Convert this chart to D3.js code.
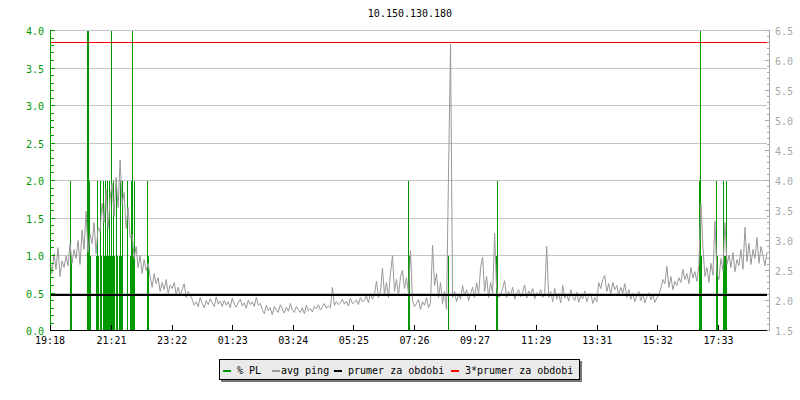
<!DOCTYPE html>
<html><head><meta charset="utf-8">
<script src="https://cdn.jsdelivr.net/npm/d3@7"></script>
<style>
body{margin:0;background:#fff}
svg{display:block}
text{font-family:"DejaVu Sans Mono",monospace;font-size:10px}
</style>
</head><body>
<svg id="c" width="800" height="400"></svg>
<script>
// ---------- data ----------
const title = "10.150.130.180";
const startLabel = "19:18";
const spanMinutes = 1432;
const pingStepMinutes = 4;
const xTickLabels = ["19:18","21:21","23:22","01:23","03:24","05:25","07:26","09:27","11:29","13:31","15:32","17:33"];
const leftTickLabels = ["0.0","0.5","1.0","1.5","2.0","2.5","3.0","3.5","4.0"];
const rightTickLabels = ["1.5","2.0","2.5","3.0","3.5","4.0","4.5","5.0","5.5","6.0","6.5"];
const legendLabels = ["% PL","avg ping","prumer za obdobi","3*prumer za obdobi"];
const avgPing = 2.10;
const avgPing3 = 6.30;
// avg ping (ms) every 4 minutes
const pingValues = [
 2.70,2.45,2.78,2.52,2.88,2.40,2.66,2.55,2.74,
 2.58,2.95,2.62,2.85,2.70,3.00,2.60,3.17,
 2.85,3.49,2.80,3.10,2.95,3.30,2.78,3.22,
 3.15,3.62,3.30,3.85,3.20,3.70,
 3.95,3.40,4.05,3.55,4.34,3.60,
 3.80,3.20,3.55,3.05,
 3.10,2.70,2.90,
 2.55,2.75,2.45,2.68,2.50,2.62,
 2.40,2.22,2.45,2.28,2.38,
 2.15,2.30,2.18,2.35,2.12,2.26,2.20,2.30,
 2.10,2.22,2.08,2.18,2.28,2.05,2.15,2.10,
 2.02,1.92,1.98,1.90,2.05,1.95,1.88,2.00,1.93,2.03,1.96,1.90,2.06,1.94,1.99,
 1.90,2.00,1.92,1.98,1.88,2.04,1.94,1.89,1.97,2.02,1.91,1.96,1.87,2.01,1.93,1.98,1.90,2.05,1.92,1.95,
 1.85,1.78,1.92,1.83,1.88,1.76,1.90,1.84,1.80,1.93,1.86,1.79,1.89,1.82,1.95,1.84,1.80,1.90,1.85,
 1.80,1.88,1.78,1.92,1.83,1.87,1.81,1.90,1.86,1.93,1.84,1.89,1.95,1.87,1.91,1.88,
 2.22,
 1.92,1.98,1.93,1.96,2.02,1.94,1.99,1.91,2.04,1.95,1.97,2.01,1.93,2.05,1.98,
 2.00,2.08,1.96,2.12,2.02,2.10,2.32,2.05,2.15,
 2.54,2.10,2.30,2.05,2.45,2.75,2.15,2.35,2.08,2.40,
 2.50,2.20,2.38,2.12,2.83,2.00,1.90,
 1.95,2.02,1.85,1.98,1.92,2.05,1.88,1.96,
 2.92,2.25,2.45,2.05,2.30,1.95,2.15,1.85,
 4.16,6.27,
 2.05,2.15,1.98,2.10,2.02,2.25,2.08,2.18,2.00,2.12,2.22,2.05,2.30,2.10,2.55,
 2.72,2.15,2.40,2.05,2.30,2.12,3.12,2.20,2.05,
 2.10,2.20,2.33,2.05,2.15,2.08,2.22,2.02,2.12,2.18,2.06,2.14,2.26,2.04,2.16,2.10,2.20,2.03,2.13,2.08,2.18,2.05,2.12,
 2.90,
 2.05,2.15,1.98,2.20,2.02,2.12,1.96,2.25,2.04,2.10,1.99,2.18,2.06,2.00,2.14,1.97,2.08,2.03,2.16,1.98,2.07,2.12,1.95,2.05,1.98,
 2.30,2.20,2.35,2.42,2.15,2.28,2.10,2.30,2.18,2.25,2.08,2.22,2.12,2.28,2.05,2.18,
 2.02,2.12,1.98,2.08,2.15,2.00,2.10,1.96,2.06,2.13,2.01,2.09,1.97,2.04,2.10,
 2.20,2.35,2.28,2.57,2.22,2.40,2.18,2.32,2.25,2.38,
 2.30,2.52,2.35,2.45,2.28,2.55,2.38,2.48,2.32,
 2.60,3.62,
 2.89,2.40,2.55,2.30,2.62,2.42,3.32,2.45,2.35,
 2.70,2.50,3.30,2.60,2.75,
 2.55,2.80,2.48,2.68,2.58,2.85,2.52,
 3.22,2.65,2.95,2.60,2.85,2.70,3.05,2.62,2.90,2.75,2.58,2.80
];
// packet loss (%) events: minutes after start and value
const plMinutes = [40,42,74,76,78,80,92,94,96,100,102,
 106,108,110,112,114,116,118,120,122,124,126,128,132,134,138,140,142,144,154,160,162,164,166,168,194,196,
 716,718,796,892,894,1298,1300,1302,1332,1334,1346,1348,1350,1352];
const plValues  = [2,1,4,4,2,1,1,2,1,2,1,
 2,1,2,1,2,1,2,1,4,1,2,1,2,1,1,2,1,2,2,1,2,4,1,2,2,1,
 2,1,1,1,2,2,4,1,2,1,2,1,1,2];

// ---------- chart ----------
const GREEN="#009900", GRAY="#999999", GRID="#c4c4c4", RAXIS="#a8a8a8";
const svg = d3.select("#c");
const [sh, sm] = startLabel.split(":").map(Number);
const startTime = new Date(2024,0,1,sh,sm);
const L=50, R=767, T=30.5, B=330.5;
const x = d3.scaleTime().domain([startTime, d3.timeMinute.offset(startTime, spanMinutes)]).range([L, R]);
const yL = d3.scaleLinear().domain([0,4]).range([B, T]);
const yR = d3.scaleLinear().domain([1.5,6.5]).range([B, T]);
const snap = v => Math.round(v - 0.5) + 0.5;

// title
svg.append("text").attr("x",410).attr("y",17).attr("text-anchor","middle").attr("fill","#000").text(title);

// grid
const leftVals = leftTickLabels.map(Number);
svg.append("g").selectAll("line").data(leftVals.filter(v=>v>0)).join("line")
  .attr("x1",L).attr("x2",R).attr("y1",d=>snap(yL(d))).attr("y2",d=>snap(yL(d)))
  .attr("stroke",GRID).attr("stroke-width",1).attr("shape-rendering","crispEdges");

// packet loss spikes
const pl = plMinutes.map((m,i)=>({t:d3.timeMinute.offset(startTime,m), v:plValues[i]}));
svg.append("g").selectAll("line").data(pl).join("line")
  .attr("x1",d=>snap(x(d.t))).attr("x2",d=>snap(x(d.t)))
  .attr("y1",yL(0)).attr("y2",d=>yL(Math.min(d.v,4)))
  .attr("stroke",GREEN).attr("stroke-width",1).attr("shape-rendering","crispEdges");

// avg ping
const ping = pingValues.map((v,i)=>({t:d3.timeMinute.offset(startTime,i*pingStepMinutes), v}));
svg.append("path").datum(ping)
  .attr("d", d3.line().x(d=>x(d.t)).y(d=>yR(d.v)))
  .attr("fill","none").attr("stroke",GRAY).attr("stroke-width",1);

// average lines
svg.append("line").attr("x1",L).attr("x2",R).attr("y1",yR(avgPing)).attr("y2",yR(avgPing))
  .attr("stroke","#000").attr("stroke-width",2).attr("shape-rendering","crispEdges");
svg.append("line").attr("x1",L).attr("x2",R).attr("y1",snap(yR(avgPing3))).attr("y2",snap(yR(avgPing3)))
  .attr("stroke","#ff0000").attr("stroke-width",1).attr("shape-rendering","crispEdges");

// left axis
const leftMinor = d3.range(0,41).map(i=>i/10);
const gL = svg.append("g").attr("shape-rendering","crispEdges");
gL.append("line").attr("x1",L+0.5).attr("x2",L+0.5).attr("y1",T-0.5).attr("y2",B).attr("stroke",GREEN);
gL.selectAll("line.t").data(leftMinor).join("line").attr("class","t")
  .attr("x1",L).attr("x2",(d,i)=>L+(i%5===0?5:3.5)).attr("y1",d=>snap(yL(d))).attr("y2",d=>snap(yL(d))).attr("stroke",GREEN);
svg.append("g").selectAll("text").data(leftTickLabels).join("text")
  .attr("x",44).attr("y",d=>yL(+d)+4.5).attr("text-anchor","end").attr("fill",GREEN).text(d=>d);

// right axis
const rightMinor = d3.range(15,66).map(i=>i/10);
const gR = svg.append("g").attr("shape-rendering","crispEdges");
gR.append("line").attr("x1",769.5).attr("x2",769.5).attr("y1",T-0.5).attr("y2",B+0.5).attr("stroke",RAXIS);
gR.selectAll("line.t").data(rightMinor).join("line").attr("class","t")
  .attr("x1",770).attr("x2",(d,i)=>770-(i%5===0?5:3)).attr("y1",d=>snap(yR(d))).attr("y2",d=>snap(yR(d))).attr("stroke",RAXIS);
svg.append("g").selectAll("text").data(rightTickLabels).join("text")
  .attr("x",775).attr("y",d=>yR(+d)+4.5).attr("fill",RAXIS).text(d=>d);

// bottom axis
const tickTimes = xTickLabels.map(s=>{const [h,m]=s.split(":").map(Number);
  const mins=((h*60+m)-(sh*60+sm)+1440)%1440; return d3.timeMinute.offset(startTime,mins);});
const gB = svg.append("g").attr("shape-rendering","crispEdges");
gB.append("line").attr("x1",L).attr("x2",R).attr("y1",B).attr("y2",B).attr("stroke","#000");
gB.selectAll("line.t").data(tickTimes).join("line").attr("class","t")
  .attr("x1",d=>snap(x(d))).attr("x2",d=>snap(x(d))).attr("y1",B).attr("y2",B-5.5).attr("stroke","#000");
svg.append("g").selectAll("text").data(xTickLabels).join("text")
  .attr("x",(d,i)=>x(tickTimes[i])).attr("y",344).attr("text-anchor","middle").attr("fill","#000").text(d=>d);

// legend
const lg = svg.append("g");
lg.append("rect").attr("x",221).attr("y",361).attr("width",361).attr("height",21).attr("fill","#777").attr("shape-rendering","crispEdges");
lg.append("rect").attr("x",219.5).attr("y",359.5).attr("width",360).attr("height",20).attr("fill","#eaeaea").attr("stroke","#000").attr("shape-rendering","crispEdges");
const legendColors = [GREEN, GRAY, "#000", "#ff0000"];
const markerX = [223, 272, 334, 451];
const textX = [237, 281, 348, 465];
legendLabels.forEach((lab,i)=>{
  lg.append("rect").attr("x",markerX[i]).attr("y",370).attr("width",8).attr("height",2).attr("fill",legendColors[i]);
  lg.append("text").attr("x",textX[i]).attr("y",373.5).attr("fill","#000").text(lab);
});
</script>
</body></html>
